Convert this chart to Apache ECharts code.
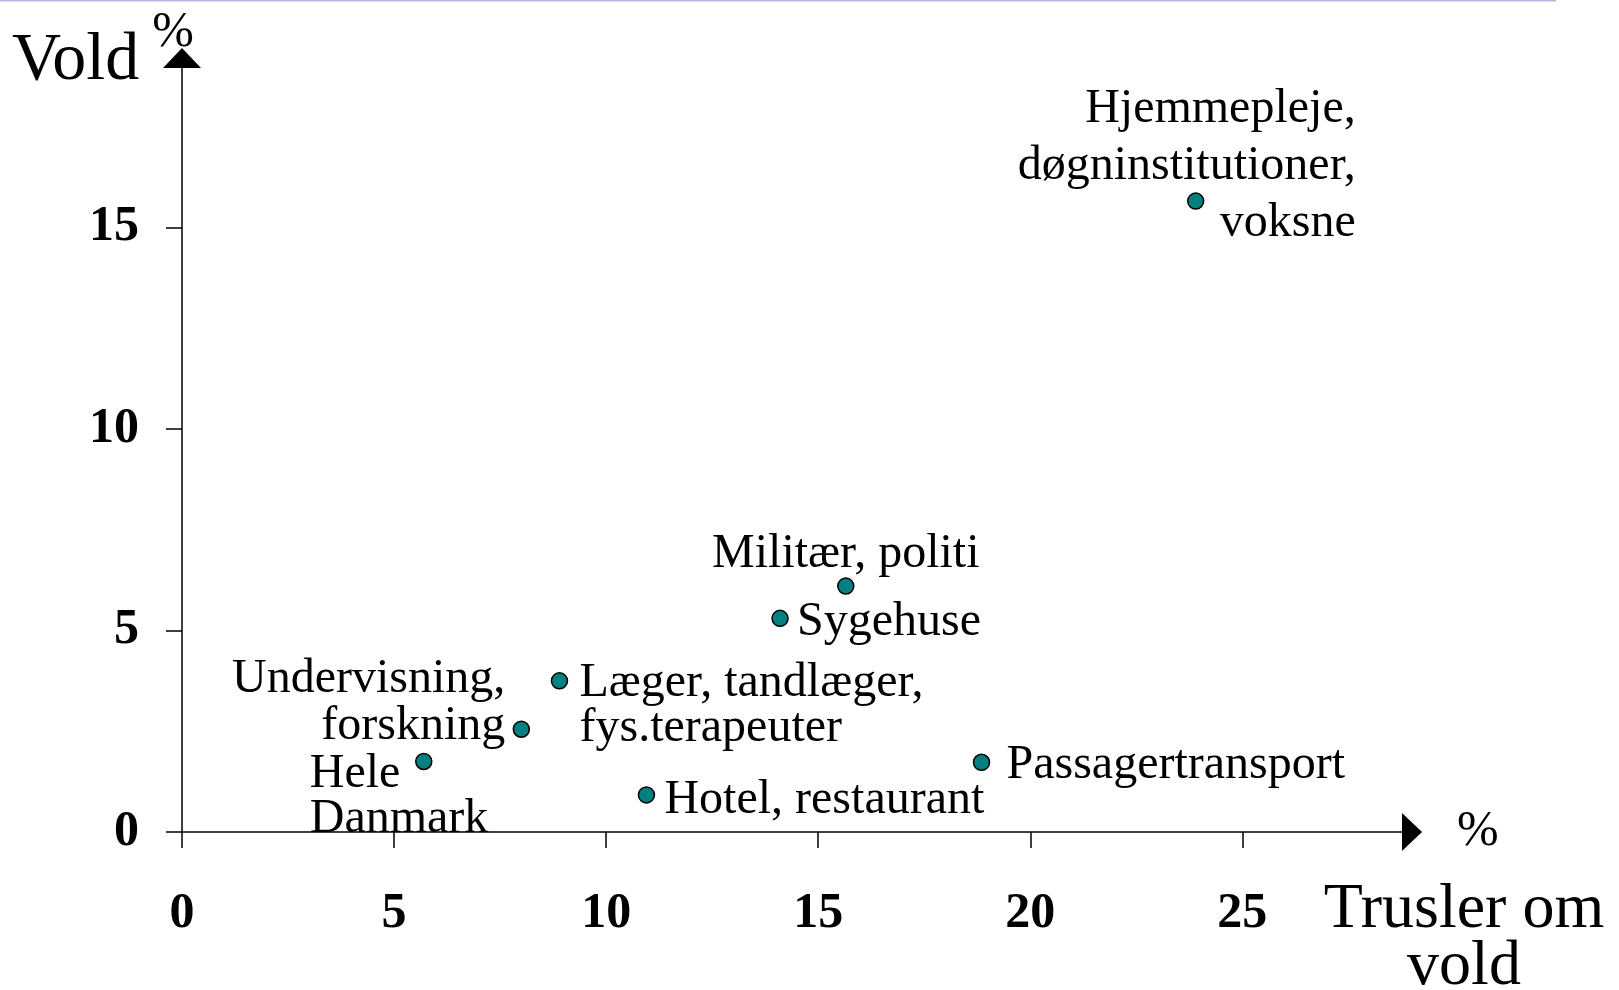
<!DOCTYPE html>
<html>
<head>
<meta charset="utf-8">
<script src="https://cdn.jsdelivr.net/npm/echarts@6/dist/echarts.min.js"></script>
<style>
  html, body { margin: 0; padding: 0; background: #fff; }
  #chart { width: 1619px; height: 990px; }
</style>
</head>
<body>
<div id="chart"></div>
<script>
// data
const sektorer = [
  "Hjemmepleje,\ndøgninstitutioner,\nvoksne",
  "Militær, politi",
  "Sygehuse",
  "Læger, tandlæger,\nfys.terapeuter",
  "Undervisning,\nforskning",
  "Hele\nDanmark",
  "Hotel, restaurant",
  "Passagertransport"
];
const trusler = [23.9, 15.65, 14.1, 8.9, 8.0, 5.7, 10.95, 18.85];
const vold = [15.65, 6.1, 5.3, 3.75, 2.55, 1.75, 0.92, 1.73];
const xTicks = [0, 5, 10, 15, 20, 25];
const yTicks = [0, 5, 10, 15];

// where each label sits relative to its point
const labelPlacering = [
  { offset: [160, -35], align: "right", lineHeight: 57 },
  { offset: [0, -32], align: "center", lineHeight: 48 },
  { offset: [17, 4], align: "left", lineHeight: 48 },
  { offset: [20, 25], align: "left", lineHeight: 45 },
  { offset: [-16, -26], align: "right", lineHeight: 47 },
  { offset: [-114, 35], align: "left", lineHeight: 45 },
  { offset: [18, 5], align: "left", lineHeight: 48 },
  { offset: [25, 3], align: "left", lineHeight: 48 }
];

const serif = '"Liberation Serif", "Times New Roman", serif';

const chart = echarts.init(document.getElementById("chart"));

const punkter = sektorer.map((navn, i) => ({
  name: navn,
  value: [trusler[i], vold[i]],
  label: {
    show: true,
    position: "inside",
    formatter: navn,
    offset: labelPlacering[i].offset,
    align: labelPlacering[i].align,
    verticalAlign: "middle",
    lineHeight: labelPlacering[i].lineHeight
  }
}));

const option = {
  animation: false,
  backgroundColor: "#fff",
  grid: {
    left: 182,
    top: 58,
    right: 207,
    bottom: 158
  },
  xAxis: {
    type: "value",
    min: 0,
    max: 29,
    interval: 5,
    name: "%",
    nameLocation: "end",
    nameGap: 45,
    nameTextStyle: {
      fontFamily: serif,
      fontSize: 50,
      color: "#000",
      verticalAlign: "middle",
      padding: [12, 0, 0, 0]
    },
    axisLine: {
      show: true,
      symbol: ["none", "triangle"],
      symbolSize: [38, 20],
      lineStyle: { color: "#000", width: 1.5 }
    },
    axisTick: {
      show: true,
      length: 16,
      customValues: xTicks,
      lineStyle: { color: "#000", width: 1.5 }
    },
    axisLabel: {
      customValues: xTicks,
      margin: 57,
      fontFamily: serif,
      fontWeight: "bold",
      fontSize: 50,
      color: "#000"
    },
    splitLine: { show: false }
  },
  yAxis: {
    type: "value",
    min: 0,
    max: 19.2,
    interval: 5,
    name: "%",
    nameLocation: "end",
    nameGap: 25,
    nameTextStyle: {
      fontFamily: serif,
      fontSize: 50,
      color: "#000",
      align: "center",
      verticalAlign: "middle",
      padding: [0, 18, 0, 0]
    },
    axisLine: {
      show: true,
      symbol: ["none", "triangle"],
      symbolSize: [38, 20],
      lineStyle: { color: "#000", width: 1.5 }
    },
    axisTick: {
      show: true,
      length: 16,
      customValues: yTicks,
      lineStyle: { color: "#000", width: 1.5 }
    },
    axisLabel: {
      customValues: yTicks,
      margin: 43,
      fontFamily: serif,
      fontWeight: "bold",
      fontSize: 50,
      color: "#000"
    },
    splitLine: { show: false }
  },
  series: [
    {
      type: "scatter",
      symbol: "circle",
      symbolSize: 16,
      itemStyle: {
        color: "#008080",
        borderColor: "#000",
        borderWidth: 1.5,
        opacity: 1
      },
      label: {
        color: "#000",
        fontFamily: serif,
        fontSize: 48
      },
      emphasis: { disabled: true },
      data: punkter
    }
  ],
  graphic: [
    {
      type: "rect",
      shape: { x: 0, y: 0, width: 1556, height: 1.5 },
      style: { fill: "#b4b4e0" }
    },
    {
      type: "text",
      x: 12,
      y: 61,
      style: {
        text: "Vold",
        font: "68px " + serif,
        fill: "#000",
        textAlign: "left",
        textVerticalAlign: "middle"
      }
    },
    {
      type: "text",
      x: 1464,
      y: 939,
      style: {
        text: "Trusler om\nvold",
        font: "64px " + serif,
        fill: "#000",
        textAlign: "center",
        textVerticalAlign: "middle",
        lineHeight: 57
      }
    }
  ]
};

chart.setOption(option);
</script>
</body>
</html>
